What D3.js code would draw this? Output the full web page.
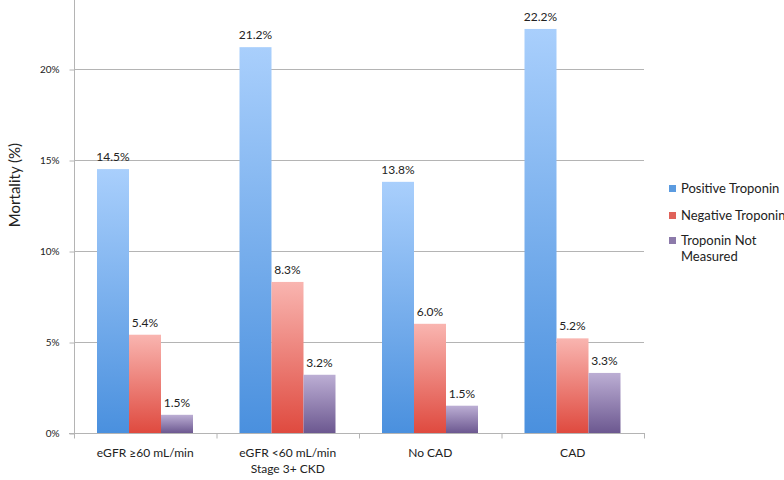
<!DOCTYPE html>
<html>
<head>
<meta charset="utf-8">
<script src="https://cdn.jsdelivr.net/npm/d3@7"></script>
<style>
body { margin: 0; background: #fff; }
text { font-family: Lato, "Open Sans", sans-serif; fill: #222; }
</style>
</head>
<body>
<svg id="chart" width="784" height="480"></svg>
<script>
var categories = [["eGFR \u226560 mL/min"], ["eGFR <60 mL/min", "Stage 3+ CKD"], ["No CAD"], ["CAD"]];
var seriesNames = ["Positive Troponin", "Negative Troponin", "Troponin Not Measured"];
var positive = [14.5, 21.2, 13.8, 22.2];
var negative = [5.4, 8.3, 6.0, 5.2];
var notMeasured = [1.0, 3.2, 1.5, 3.3];
var labels = [["14.5%", "21.2%", "13.8%", "22.2%"], ["5.4%", "8.3%", "6.0%", "5.2%"], ["1.5%", "3.2%", "1.5%", "3.3%"]];
var yTicks = [0, 5, 10, 15, 20];

var series = [positive, negative, notMeasured];
var colors = [
	{top: "#a9cffc", bottom: "#4a90de", swatch: "#5b9be0"},
	{top: "#f9b5b0", bottom: "#df4a3f", swatch: "#e0625a"},
	{top: "#bcaed4", bottom: "#6c5890", swatch: "#8c7aaa"}
];

var svg = d3.select("#chart");
var left = 74, right = 644, bottom = 433;

var x = d3.scaleBand().domain(d3.range(categories.length)).range([left, right]);
var y = d3.scaleLinear().domain([0, 5]).range([bottom, 342]);
var inner = d3.scaleBand().domain(d3.range(series.length)).range([23, 119]);

var defs = svg.append("defs");
colors.forEach(function(c, i)
{
	var g = defs.append("linearGradient").attr("id", "grad" + i)
		.attr("x1", 0).attr("y1", 0).attr("x2", 0).attr("y2", 1);
	g.append("stop").attr("offset", "0%").attr("stop-color", c.top);
	g.append("stop").attr("offset", "100%").attr("stop-color", c.bottom);
});

// gridlines
svg.append("g").selectAll("line").data(yTicks.slice(1)).enter().append("line")
	.attr("x1", left).attr("x2", right)
	.attr("y1", function(d){ return y(d) + 0.5; }).attr("y2", function(d){ return y(d) + 0.5; })
	.attr("stroke", "#b4b4b4").attr("stroke-width", 1);

// y axis
var yAxis = svg.append("g").attr("transform", "translate(" + (left + 0.5) + ",0.5)")
	.call(d3.axisLeft(y).tickValues(yTicks).tickSize(5).tickPadding(10).tickFormat(function(d){ return d + "%"; }));
yAxis.select(".domain").attr("d", "M0,-10V" + bottom).attr("stroke", "#b4b4b4");
yAxis.selectAll(".tick line").attr("stroke", "#b4b4b4");
yAxis.selectAll(".tick text").attr("font-size", 10).attr("font-family", "Lato, sans-serif").attr("fill", "#333");

// x axis
var xAxis = svg.append("g").attr("transform", "translate(0," + (bottom + 0.5) + ")");
xAxis.append("line").attr("x1", left - 5).attr("x2", right + 1).attr("stroke", "#b4b4b4");
xAxis.selectAll(".sep").data(d3.range(categories.length + 1)).enter().append("line")
	.attr("x1", function(i){ return i < categories.length ? x(i) + 0.5 : right + 0.5; })
	.attr("x2", function(i){ return i < categories.length ? x(i) + 0.5 : right + 0.5; })
	.attr("y1", 0).attr("y2", 5).attr("stroke", "#b4b4b4");
var xl = xAxis.selectAll(".xl").data(categories).enter().append("text")
	.attr("text-anchor", "middle").attr("font-size", 12)
	.attr("transform", function(d, i){ return "translate(" + (x(i) + x.bandwidth() / 2) + ",0)"; });
xl.selectAll("tspan").data(function(d){ return d; }).enter().append("tspan")
	.attr("x", 0).attr("y", function(d, j){ return 23 + j * 16; }).text(function(d){ return d; });

// bars
series.forEach(function(vals, s)
{
	var g = svg.append("g");
	g.selectAll("rect").data(vals).enter().append("rect")
		.attr("x", function(d, i){ return x(i) + inner(s); })
		.attr("width", inner.bandwidth())
		.attr("y", function(d){ return y(d); })
		.attr("height", function(d){ return bottom - y(d); })
		.attr("fill", "url(#grad" + s + ")");
	g.selectAll("text").data(vals).enter().append("text")
		.attr("x", function(d, i){ return x(i) + inner(s) + inner.bandwidth() / 2; })
		.attr("y", function(d){ return y(d) - 8; })
		.attr("text-anchor", "middle").attr("font-size", 12)
		.text(function(d, i){ return labels[s][i]; });
});

// y title
svg.append("text").attr("transform", "translate(20,185) rotate(-90)")
	.attr("text-anchor", "middle").attr("font-size", 15).text("Mortality (%)");

// legend
var legendRows = [["Positive Troponin"], ["Negative Troponin"], ["Troponin Not", "Measured"]];
var legendY = [189, 216, 241];
var lg = svg.append("g").selectAll("g").data(legendRows).enter().append("g")
	.attr("transform", function(d, i){ return "translate(669," + legendY[i] + ")"; });
lg.append("rect").attr("x", 0).attr("y", -4).attr("width", 7).attr("height", 7)
	.attr("fill", function(d, i){ return colors[i].swatch; });
lg.append("text").attr("font-size", 13).selectAll("tspan").data(function(d){ return d; }).enter().append("tspan")
	.attr("x", 12).attr("y", function(d, j){ return 4 + j * 16; }).text(function(d){ return d; });
</script>
</body>
</html>
